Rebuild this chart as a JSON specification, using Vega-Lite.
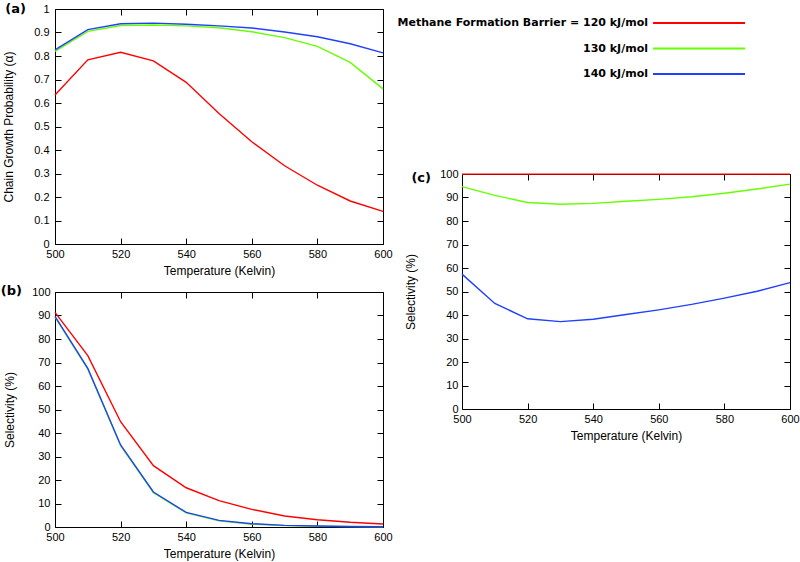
{
  "$schema": "https://vega.github.io/schema/vega-lite/v6.json",
  "background": "white",
  "padding": {"left": 0, "top": 2, "right": 5, "bottom": 5},
  "config": {
    "font": "Liberation Sans",
    "view": {"stroke": null},
    "axis": {
      "grid": false,
      "domainColor": "#000",
      "domainWidth": 1,
      "tickColor": "#000",
      "tickWidth": 1,
      "tickSize": -6,
      "labelFont": "Liberation Sans",
      "labelFontSize": 11,
      "labelColor": "#000",
      "labelFlush": false,
      "labelOverlap": false,
      "labelBound": false,
      "titleFont": "Liberation Sans",
      "titleFontSize": 12,
      "titleFontWeight": "normal",
      "titleColor": "#000"
    }
  },
  "datasets": {
    "a": [
      {"T": 500, "s": "120", "v": 0.634}, {"T": 510, "s": "120", "v": 0.784}, {"T": 520, "s": "120", "v": 0.816}, {"T": 530, "s": "120", "v": 0.779}, {"T": 540, "s": "120", "v": 0.688}, {"T": 550, "s": "120", "v": 0.555}, {"T": 560, "s": "120", "v": 0.435}, {"T": 570, "s": "120", "v": 0.333}, {"T": 580, "s": "120", "v": 0.25}, {"T": 590, "s": "120", "v": 0.183}, {"T": 600, "s": "120", "v": 0.139},
      {"T": 500, "s": "130", "v": 0.82}, {"T": 510, "s": "130", "v": 0.905}, {"T": 520, "s": "130", "v": 0.93}, {"T": 530, "s": "130", "v": 0.932}, {"T": 540, "s": "130", "v": 0.928}, {"T": 550, "s": "130", "v": 0.92}, {"T": 560, "s": "130", "v": 0.903}, {"T": 570, "s": "130", "v": 0.878}, {"T": 580, "s": "130", "v": 0.841}, {"T": 590, "s": "130", "v": 0.773}, {"T": 600, "s": "130", "v": 0.66},
      {"T": 500, "s": "140", "v": 0.826}, {"T": 510, "s": "140", "v": 0.912}, {"T": 520, "s": "140", "v": 0.937}, {"T": 530, "s": "140", "v": 0.94}, {"T": 540, "s": "140", "v": 0.935}, {"T": 550, "s": "140", "v": 0.928}, {"T": 560, "s": "140", "v": 0.919}, {"T": 570, "s": "140", "v": 0.902}, {"T": 580, "s": "140", "v": 0.882}, {"T": 590, "s": "140", "v": 0.852}, {"T": 600, "s": "140", "v": 0.813}
    ],
    "b": [
      {"T": 500, "s": "120", "v": 91.3}, {"T": 510, "s": "120", "v": 72.9}, {"T": 520, "s": "120", "v": 44.8}, {"T": 530, "s": "120", "v": 26.1}, {"T": 540, "s": "120", "v": 16.7}, {"T": 550, "s": "120", "v": 11.2}, {"T": 560, "s": "120", "v": 7.5}, {"T": 570, "s": "120", "v": 4.7}, {"T": 580, "s": "120", "v": 3.1}, {"T": 590, "s": "120", "v": 2.0}, {"T": 600, "s": "120", "v": 1.3},
      {"T": 500, "s": "130", "v": 89.3}, {"T": 510, "s": "130", "v": 67.2}, {"T": 520, "s": "130", "v": 34.6}, {"T": 530, "s": "130", "v": 14.6}, {"T": 540, "s": "130", "v": 6.0}, {"T": 550, "s": "130", "v": 2.6}, {"T": 560, "s": "130", "v": 1.2}, {"T": 570, "s": "130", "v": 0.6}, {"T": 580, "s": "130", "v": 0.3}, {"T": 590, "s": "130", "v": 0.15}, {"T": 600, "s": "130", "v": 0.1},
      {"T": 500, "s": "140", "v": 89.6}, {"T": 510, "s": "140", "v": 67.5}, {"T": 520, "s": "140", "v": 34.9}, {"T": 530, "s": "140", "v": 14.9}, {"T": 540, "s": "140", "v": 6.2}, {"T": 550, "s": "140", "v": 2.8}, {"T": 560, "s": "140", "v": 1.4}, {"T": 570, "s": "140", "v": 0.7}, {"T": 580, "s": "140", "v": 0.4}, {"T": 590, "s": "140", "v": 0.2}, {"T": 600, "s": "140", "v": 0.1}
    ],
    "c": [
      {"T": 500, "s": "120", "v": 99.95}, {"T": 510, "s": "120", "v": 99.95}, {"T": 520, "s": "120", "v": 99.95}, {"T": 530, "s": "120", "v": 99.95}, {"T": 540, "s": "120", "v": 99.95}, {"T": 550, "s": "120", "v": 99.95}, {"T": 560, "s": "120", "v": 99.95}, {"T": 570, "s": "120", "v": 99.95}, {"T": 580, "s": "120", "v": 99.95}, {"T": 590, "s": "120", "v": 99.95}, {"T": 600, "s": "120", "v": 99.95},
      {"T": 500, "s": "130", "v": 94.6}, {"T": 510, "s": "130", "v": 90.9}, {"T": 520, "s": "130", "v": 87.9}, {"T": 530, "s": "130", "v": 87.1}, {"T": 540, "s": "130", "v": 87.5}, {"T": 550, "s": "130", "v": 88.4}, {"T": 560, "s": "130", "v": 89.2}, {"T": 570, "s": "130", "v": 90.3}, {"T": 580, "s": "130", "v": 91.8}, {"T": 590, "s": "130", "v": 93.6}, {"T": 600, "s": "130", "v": 95.7},
      {"T": 500, "s": "140", "v": 57.4}, {"T": 510, "s": "140", "v": 44.9}, {"T": 520, "s": "140", "v": 38.4}, {"T": 530, "s": "140", "v": 37.2}, {"T": 540, "s": "140", "v": 38.2}, {"T": 550, "s": "140", "v": 40.2}, {"T": 560, "s": "140", "v": 42.2}, {"T": 570, "s": "140", "v": 44.5}, {"T": 580, "s": "140", "v": 47.2}, {"T": 590, "s": "140", "v": 50.1}, {"T": 600, "s": "140", "v": 53.8}
    ],
    "legend": [
      {"s": "120", "label": "Methane Formation Barrier = 120 kJ/mol"},
      {"s": "130", "label": "130 kJ/mol"},
      {"s": "140", "label": "140 kJ/mol"}
    ]
  },
  "spacing": 4,
  "hconcat": [
    {
      "bounds": "flush",
      "spacing": 48,
      "vconcat": [
        {
          "width": 328,
          "height": 235,
          "resolve": {"axis": {"x": "independent", "y": "independent"}},
          "layer": [
            {
              "data": {"name": "a"},
              "mark": {"type": "line", "strokeWidth": 1.4},
              "encoding": {
                "x": {"field": "T", "type": "quantitative", "scale": {"domain": [500, 600], "nice": false},
                      "axis": {"values": [500, 520, 540, 560, 580, 600], "title": "Temperature (Kelvin)", "labelPadding": 10.5, "titlePadding": 6}},
                "y": {"field": "v", "type": "quantitative", "scale": {"domain": [0, 1], "nice": false},
                      "axis": {"values": [0, 0.1, 0.2, 0.3, 0.4, 0.5, 0.6, 0.7, 0.8, 0.9, 1], "format": ".1~f", "title": "Chain Growth Probability (α)", "labelPadding": 12, "titlePadding": 18}},
                "color": {"field": "s", "type": "nominal", "scale": {"domain": ["120", "130", "140"], "range": ["#ff0000", "#66ff00", "#2040ff"]}, "legend": null}
              }
            },
            {
              "data": {"name": "a"},
              "mark": {"type": "line", "strokeOpacity": 0},
              "encoding": {
                "x": {"field": "T", "type": "quantitative", "axis": {"orient": "top", "values": [500, 520, 540, 560, 580, 600], "labels": false, "title": null}},
                "y": {"field": "v", "type": "quantitative", "axis": {"orient": "right", "values": [0, 0.1, 0.2, 0.3, 0.4, 0.5, 0.6, 0.7, 0.8, 0.9, 1], "labels": false, "title": null}},
                "detail": {"field": "s"}
              }
            },
            {
              "data": {"values": [{"lab": "(a)"}]},
              "mark": {"type": "text", "align": "right", "baseline": "middle", "dx": -29, "dy": -0.5, "font": "DejaVu Sans", "fontWeight": "bold", "fontSize": 13, "color": "#000"},
              "encoding": {
                "x": {"datum": 500, "type": "quantitative", "axis": null},
                "y": {"datum": 1, "type": "quantitative", "axis": null},
                "text": {"field": "lab"}
              }
            }
          ]
        },
        {
          "width": 328,
          "height": 235,
          "resolve": {"axis": {"x": "independent", "y": "independent"}},
          "layer": [
            {
              "data": {"name": "b"},
              "mark": {"type": "line", "strokeWidth": 1.4},
              "encoding": {
                "x": {"field": "T", "type": "quantitative", "scale": {"domain": [500, 600], "nice": false},
                      "axis": {"values": [500, 520, 540, 560, 580, 600], "title": "Temperature (Kelvin)", "labelPadding": 10.5, "titlePadding": 6}},
                "y": {"field": "v", "type": "quantitative", "scale": {"domain": [0, 100], "nice": false},
                      "axis": {"values": [0, 10, 20, 30, 40, 50, 60, 70, 80, 90, 100], "title": "Selectivity (%)", "labelPadding": 11, "titlePadding": 15}},
                "color": {"field": "s", "type": "nominal", "scale": {"domain": ["120", "130", "140"], "range": ["#ff0000", "#66ff00", "#2040ff"]}, "legend": null}
              }
            },
            {
              "data": {"name": "b"},
              "mark": {"type": "line", "strokeOpacity": 0},
              "encoding": {
                "x": {"field": "T", "type": "quantitative", "axis": {"orient": "top", "values": [500, 520, 540, 560, 580, 600], "labels": false, "title": null}},
                "y": {"field": "v", "type": "quantitative", "axis": {"orient": "right", "values": [0, 10, 20, 30, 40, 50, 60, 70, 80, 90, 100], "labels": false, "title": null}},
                "detail": {"field": "s"}
              }
            },
            {
              "data": {"values": [{"lab": "(b)"}]},
              "mark": {"type": "text", "align": "right", "baseline": "middle", "dx": -33, "dy": -1, "font": "DejaVu Sans", "fontWeight": "bold", "fontSize": 13, "color": "#000"},
              "encoding": {
                "x": {"datum": 500, "type": "quantitative", "axis": null},
                "y": {"datum": 100, "type": "quantitative", "axis": null},
                "text": {"field": "lab"}
              }
            }
          ]
        }
      ]
    },
    {
      "bounds": "flush",
      "spacing": 86,
      "vconcat": [
        {
          "width": 283,
          "height": 79,
          "data": {"name": "legend"},
          "layer": [
            {
              "mark": {"type": "rule", "strokeWidth": 2.2},
              "encoding": {
                "x": {"datum": 0.675, "type": "quantitative", "scale": {"domain": [0, 1], "nice": false}, "axis": null},
                "x2": {"datum": 1},
                "y": {"field": "label", "type": "nominal", "scale": {"type": "point", "domain": ["Methane Formation Barrier = 120 kJ/mol", "130 kJ/mol", "140 kJ/mol"], "padding": 0.549}, "axis": null},
                "color": {"field": "s", "type": "nominal", "scale": {"domain": ["120", "130", "140"], "range": ["#ff0000", "#66ff00", "#2040ff"]}, "legend": null}
              }
            },
            {
              "mark": {"type": "text", "align": "right", "baseline": "middle", "dx": -5, "font": "DejaVu Sans", "fontWeight": "bold", "fontSize": 11, "color": "#000"},
              "encoding": {
                "x": {"datum": 0.675, "type": "quantitative", "axis": null},
                "y": {"field": "label", "type": "nominal", "axis": null},
                "text": {"field": "label"}
              }
            }
          ]
        },
        {
          "width": 328,
          "height": 235,
          "resolve": {"axis": {"x": "independent", "y": "independent"}},
          "layer": [
            {
              "data": {"name": "c"},
              "mark": {"type": "line", "strokeWidth": 1.4},
              "encoding": {
                "x": {"field": "T", "type": "quantitative", "scale": {"domain": [500, 600], "nice": false},
                      "axis": {"values": [500, 520, 540, 560, 580, 600], "title": "Temperature (Kelvin)", "labelPadding": 10.5, "titlePadding": 6}},
                "y": {"field": "v", "type": "quantitative", "scale": {"domain": [0, 100], "nice": false},
                      "axis": {"values": [0, 10, 20, 30, 40, 50, 60, 70, 80, 90, 100], "title": "Selectivity (%)", "labelPadding": 10, "titlePadding": 22}},
                "color": {"field": "s", "type": "nominal", "scale": {"domain": ["120", "130", "140"], "range": ["#ff0000", "#66ff00", "#2040ff"]}, "legend": null}
              }
            },
            {
              "data": {"name": "c"},
              "mark": {"type": "line", "strokeOpacity": 0},
              "encoding": {
                "x": {"field": "T", "type": "quantitative", "axis": {"orient": "top", "values": [500, 520, 540, 560, 580, 600], "labels": false, "title": null}},
                "y": {"field": "v", "type": "quantitative", "axis": {"orient": "right", "values": [0, 10, 20, 30, 40, 50, 60, 70, 80, 90, 100], "labels": false, "title": null}},
                "detail": {"field": "s"}
              }
            },
            {
              "data": {"values": [{"lab": "(c)"}]},
              "mark": {"type": "text", "align": "right", "baseline": "middle", "dx": -31, "dy": 4, "font": "DejaVu Sans", "fontWeight": "bold", "fontSize": 13, "color": "#000"},
              "encoding": {
                "x": {"datum": 500, "type": "quantitative", "axis": null},
                "y": {"datum": 100, "type": "quantitative", "axis": null},
                "text": {"field": "lab"}
              }
            }
          ]
        }
      ]
    }
  ]
}
